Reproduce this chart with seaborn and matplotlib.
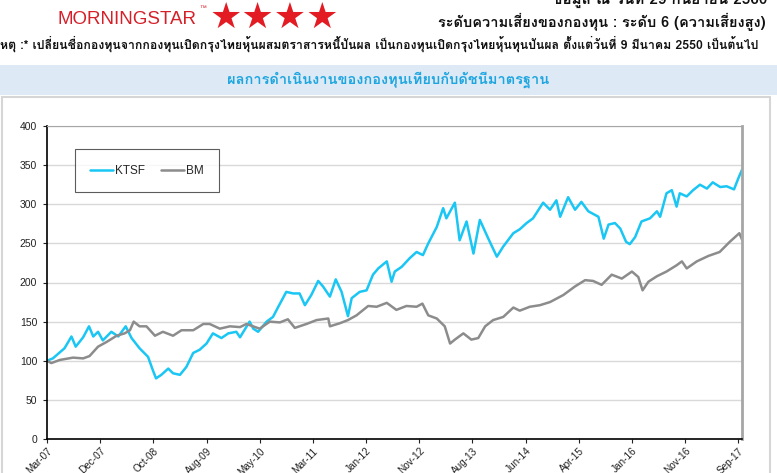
import numpy as np
import pandas as pd
import matplotlib
matplotlib.use('Agg')
import matplotlib.pyplot as plt
from matplotlib import font_manager as fm
from matplotlib.ft2font import FT2Font
from matplotlib.patches import Rectangle
import seaborn as sns

# ── Data ─────────────────────────────────────────────────────
tick_labels = ['Mar-07', 'Dec-07', 'Oct-08', 'Aug-09', 'May-10', 'Mar-11', 'Jan-12',
               'Nov-12', 'Aug-13', 'Jun-14', 'Apr-15', 'Jan-16', 'Nov-16', 'Sep-17']

# x = position along the axis in tick steps (0 = Mar-07, 13 = Sep-17)
ktsf_x = [0.00, 0.11, 0.33, 0.46, 0.54, 0.68, 0.79, 0.87, 0.96, 1.05, 1.21, 1.34,
          1.48, 1.59, 1.74, 1.90, 1.99, 2.05, 2.15, 2.28, 2.37, 2.50, 2.62, 2.75,
          2.87, 3.00, 3.12, 3.28, 3.41, 3.56, 3.63, 3.81, 3.88, 3.97, 4.13, 4.25,
          4.35, 4.50, 4.63, 4.75, 4.85, 4.97, 5.10, 5.19, 5.32, 5.43, 5.54, 5.66,
          5.73, 5.88, 6.01, 6.13, 6.23, 6.39, 6.48, 6.54, 6.67, 6.82, 6.95, 7.07,
          7.17, 7.33, 7.45, 7.51, 7.67, 7.76, 7.89, 8.02, 8.14, 8.30, 8.46, 8.58,
          8.77, 8.89, 9.02, 9.14, 9.33, 9.46, 9.58, 9.65, 9.80, 9.93, 10.05, 10.18,
          10.37, 10.47, 10.56, 10.68, 10.78, 10.89, 10.96, 11.06, 11.18, 11.34,
          11.47, 11.53, 11.65, 11.75, 11.84, 11.90, 12.03, 12.15, 12.28, 12.41,
          12.52, 12.66, 12.78, 12.92, 13.00, 13.07]
ktsf_y = [100, 103, 116, 131, 118, 130, 144, 131, 137, 126, 137, 131,
          144, 129, 116, 105, 88, 77.5, 82, 90, 84, 82, 92, 110,
          114, 122, 135, 129, 135, 137, 130, 150, 141, 137, 150, 156,
          169, 188, 186, 186, 171, 184, 202, 195, 182, 204, 188, 157,
          180, 188, 190, 210, 218, 227, 201, 214, 220, 231, 239, 235,
          250, 271, 295, 282, 302, 254, 278, 237, 280, 256, 233, 246,
          263, 268, 276, 282, 302, 293, 305, 284, 309, 293, 303, 291,
          284, 256, 274, 276, 269, 252, 249, 258, 278, 282,
          291, 284, 314, 318, 297, 314, 310, 318, 325, 320,
          328, 322, 323, 319, 333, 344]

bm_x = [0.00, 0.08, 0.24, 0.49, 0.68, 0.80, 0.96, 1.12, 1.31, 1.46, 1.56, 1.63,
        1.74, 1.87, 2.03, 2.18, 2.37, 2.53, 2.75, 2.94, 3.06, 3.25, 3.44, 3.63,
        3.75, 4.00, 4.19, 4.38, 4.53, 4.66, 4.88, 5.07, 5.29, 5.32, 5.51, 5.66,
        5.82, 6.04, 6.20, 6.39, 6.57, 6.76, 6.95, 7.06, 7.17, 7.33, 7.48, 7.58,
        7.67, 7.83, 7.98, 8.11, 8.24, 8.39, 8.58, 8.77, 8.89, 9.08, 9.27, 9.46,
        9.71, 9.93, 10.12, 10.27, 10.43, 10.62, 10.81, 11.00, 11.12, 11.20, 11.31,
        11.47, 11.65, 11.84, 11.94, 12.03, 12.22, 12.44, 12.65, 12.84, 13.02, 13.07]
bm_y = [100, 97, 101, 104, 103, 106, 118, 124, 132, 135, 139, 150,
        144, 144, 132, 137, 132, 139, 139, 147, 147, 141, 144, 143,
        147, 141, 150, 149, 153, 142, 147, 152, 154, 144, 148, 152,
        158, 170, 169, 174, 165, 170, 169, 173, 158, 154, 144, 122,
        127, 135, 127, 129, 144, 152, 156, 168, 164, 169, 171, 175,
        184, 195, 203, 202, 197, 210, 205, 214, 207, 190, 201,
        208, 214, 222, 227, 218, 227, 234, 239, 252, 263, 255]

series_names = ['KTSF', 'BM']
series_colors = ['#19c6f4', '#8c8c8c']

header_risk = 'ระดับความเสี่ยงของกองทุน : ระดับ 6 (ความเสี่ยงสูง)'
header_date = 'ข้อมูล ณ วันที่ 29 กันยายน 2560'
header_note = ('หตุ :* เปลี่ยนชื่อกองทุนจากกองทุนเปิดกรุงไทยหุ้นผสมตราสารหนี้ปันผล '
               'เป็นกองทุนเปิดกรุงไทยหุ้นทุนปันผล ตั้งแต่วันที่ 9 มีนาคม 2550 เป็นต้นไป')
chart_title = 'ผลการดำเนินงานของกองทุนเทียบกับดัชนีมาตรฐาน'


def find_thai_family():
    """Return the first installed family that has Thai glyphs, if any."""
    for f in fm.fontManager.ttflist:
        try:
            if 0x0E01 in FT2Font(f.fname).get_charmap():
                return f.name
        except Exception:
            continue
    return None


sns.set_theme(style='white')
plt.rcParams['font.family'] = ['Liberation Sans', 'DejaVu Sans']

thai = find_thai_family()
thai_fams = ([thai] if thai else []) + ['Liberation Sans', 'DejaVu Sans']

W, H = 777, 473
fig = plt.figure(figsize=(W / 100, H / 100), dpi=100)


def fx(px):
    return px / W


def fy(py):
    return 1 - py / H


# ── Header ───────────────────────────────────────────────────
fig.text(fx(57), fy(19), 'MORNINGSTAR', color='#d5202a', fontsize=13.5,
         va='center', ha='left')
fig.text(fx(199), fy(8), '™', color='#d5202a', fontsize=5, va='center', ha='left')
fig.text(fx(210), fy(18), '★★★★', color='#e31b23', fontsize=26,
         family='DejaVu Sans', va='center', ha='left')

fig.text(fx(767), fy(-3), header_date, ha='right', va='center', weight='bold',
         fontsize=11, family=thai_fams, color='#111111')
fig.text(fx(766), fy(22), header_risk, ha='right', va='center', weight='bold',
         fontsize=10.5, family=thai_fams, color='#111111')
fig.text(fx(0), fy(44), header_note, ha='left', va='center', weight='bold',
         fontsize=8.85, family=thai_fams, color='#111111')

# title bar
fig.patches.append(Rectangle((0, fy(95)), 1, 30 / H, transform=fig.transFigure,
                             facecolor='#dde9f4', edgecolor='none', zorder=0))
fig.text(0.5, fy(80), chart_title, ha='center', va='center', fontsize=10.5,
         weight='bold', family=thai_fams, color='#1ea6e0')

# outer chart frame
fig.patches.append(Rectangle((fx(2), -0.02), fx(768), fy(97) + 0.02,
                             transform=fig.transFigure, fill=False,
                             edgecolor='#d6d6d6', linewidth=1.5, zorder=0))

# ── Chart ────────────────────────────────────────────────────
df = pd.concat([
    pd.DataFrame({'pos': ktsf_x, 'value': ktsf_y, 'series': series_names[0]}),
    pd.DataFrame({'pos': bm_x, 'value': bm_y, 'series': series_names[1]}),
])

ax = fig.add_axes([fx(47), fy(439), 695 / W, 313 / H])
sns.lineplot(data=df, x='pos', y='value', hue='series', estimator=None,
             palette=dict(zip(series_names, series_colors)),
             hue_order=series_names, linewidth=1.8, ax=ax)

ax.set_xlim(0, 13.07)
ax.set_ylim(0, 400)
ax.set_yticks(np.arange(0, 401, 50))
ax.set_xticks(np.arange(len(tick_labels)))
ax.set_xticklabels(tick_labels, rotation=45, ha='right', rotation_mode='anchor')
ax.set_xlabel('')
ax.set_ylabel('')
ax.tick_params(axis='both', labelsize=7.5, colors='#222222', length=3, width=0.8,
               direction='out', bottom=True, left=True)
ax.tick_params(axis='y', pad=4)
ax.tick_params(axis='x', labelsize=7.2, pad=2)
ax.grid(axis='y', color='#d9d9d9', linewidth=1)
ax.set_axisbelow(True)

for side in ['left', 'bottom']:
    ax.spines[side].set_color('black')
    ax.spines[side].set_linewidth(1.2)
ax.spines['top'].set_color('#a6a6a6')
ax.spines['top'].set_linewidth(0.8)
ax.spines['right'].set_color('#a6a6a6')
ax.spines['right'].set_linewidth(2)

leg = ax.legend(loc='upper left', bbox_to_anchor=(0.04, 0.925), ncol=2,
                frameon=True, fancybox=False, fontsize=8.5, handlelength=1.9,
                handletextpad=0.2, columnspacing=1.4, borderpad=1.3,
                borderaxespad=0)
leg.get_frame().set_edgecolor('#333333')
leg.get_frame().set_linewidth(0.8)

fig.savefig('out.png', dpi=100)
plt.close(fig)
